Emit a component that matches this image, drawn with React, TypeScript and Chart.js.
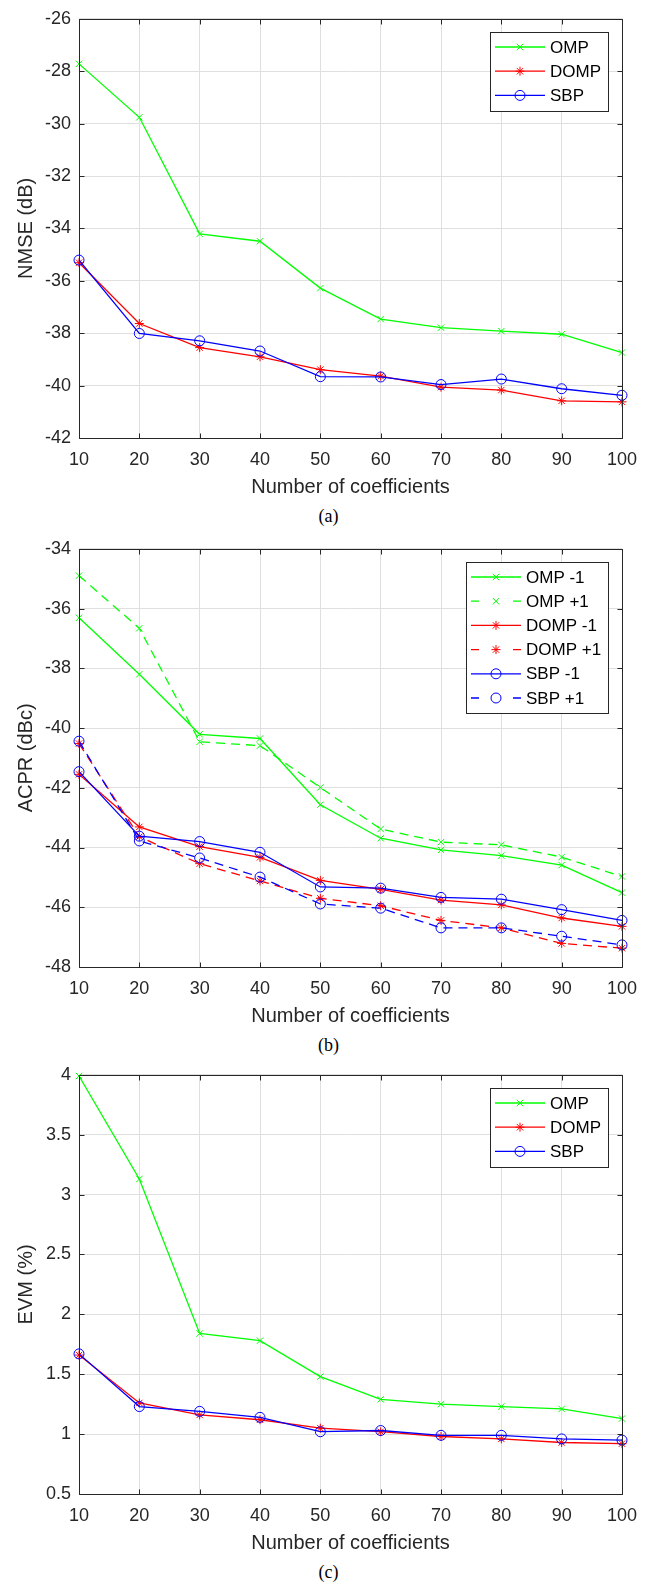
import React, { useEffect, useRef } from "react";
import { Chart, registerables } from "chart.js";

Chart.register(...registerables);

// ---------- data ----------
const coefficients = [10, 20, 30, 40, 50, 60, 70, 80, 90, 100];

const nmseOMP = [-27.72, -29.76, -34.21, -34.49, -36.28, -37.46, -37.79, -37.92, -38.04, -38.74];
const nmseDOMP = [-35.31, -37.63, -38.55, -38.9, -39.39, -39.64, -40.06, -40.17, -40.58, -40.62];
const nmseSBP = [-35.21, -38.01, -38.29, -38.68, -39.66, -39.67, -39.96, -39.75, -40.12, -40.37];

const acprOMPm1 = [-36.31, -38.2, -40.21, -40.35, -42.57, -43.69, -44.08, -44.27, -44.59, -45.51];
const acprOMPp1 = [-34.9, -36.66, -40.46, -40.59, -41.99, -43.38, -43.82, -43.91, -44.32, -44.97];
const acprDOMPm1 = [-41.55, -43.31, -43.97, -44.33, -45.1, -45.4, -45.76, -45.92, -46.36, -46.64];
const acprDOMPp1 = [-40.52, -43.64, -44.54, -45.12, -45.7, -45.95, -46.44, -46.69, -47.21, -47.37];
const acprSBPm1 = [-41.46, -43.62, -43.8, -44.16, -45.32, -45.36, -45.67, -45.73, -46.08, -46.44];
const acprSBPp1 = [-40.44, -43.78, -44.35, -44.99, -45.89, -46.03, -46.69, -46.69, -46.97, -47.26];

const evmOMP = [3.99, 3.13, 1.84, 1.78, 1.48, 1.29, 1.25, 1.23, 1.21, 1.13];
const evmDOMP = [1.66, 1.26, 1.16, 1.12, 1.05, 1.02, 0.98, 0.96, 0.93, 0.92];
const evmSBP = [1.67, 1.23, 1.19, 1.14, 1.02, 1.03, 0.99, 0.99, 0.96, 0.95];

const xTicks = [10, 20, 30, 40, 50, 60, 70, 80, 90, 100];
const nmseTicks = [-42, -40, -38, -36, -34, -32, -30, -28, -26];
const acprTicks = [-48, -46, -44, -42, -40, -38, -36, -34];
const evmTicks = [0.5, 1, 1.5, 2, 2.5, 3, 3.5, 4];

const xTitle = "Number of coefficients";

// ---------- styling ----------
const GREEN = "#00ff00";
const RED = "#ff0000";
const BLUE = "#0000ff";
const AXIS = "#262626";
const GRID = "#dfdfdf";
const FONT = "'Liberation Sans', Arial, sans-serif";
const DASH = [9, 6];

type Series = { label: string; values: number[]; color: string; marker: string; dashed?: boolean };

function drawMarker(ctx: CanvasRenderingContext2D, style: string, x: number, y: number, r: number, color: string) {
  ctx.save();
  ctx.setLineDash([]);
  ctx.strokeStyle = color;
  ctx.lineWidth = 1;
  ctx.beginPath();
  if (style === "circle") {
    ctx.arc(x, y, r, 0, Math.PI * 2);
  } else if (style === "crossRot") {
    const d = r * Math.SQRT1_2;
    ctx.moveTo(x - d, y - d);
    ctx.lineTo(x + d, y + d);
    ctx.moveTo(x - d, y + d);
    ctx.lineTo(x + d, y - d);
  } else if (style === "star") {
    const d = r * Math.SQRT1_2;
    ctx.moveTo(x, y - r);
    ctx.lineTo(x, y + r);
    ctx.moveTo(x - r, y);
    ctx.lineTo(x + r, y);
    ctx.moveTo(x - d, y - d);
    ctx.lineTo(x + d, y + d);
    ctx.moveTo(x - d, y + d);
    ctx.lineTo(x + d, y - d);
  }
  ctx.stroke();
  ctx.restore();
}

const boxPlugin = {
  id: "mlBox",
  afterDatasetsDraw(chart: any) {
    const { ctx, chartArea } = chart;
    const l = Math.round(chartArea.left) + 0.5;
    const r = Math.round(chartArea.right) + 0.5;
    const t = Math.round(chartArea.top) + 0.5;
    const b = Math.round(chartArea.bottom) + 0.5;
    ctx.save();
    ctx.strokeStyle = AXIS;
    ctx.lineWidth = 1;
    ctx.setLineDash([]);
    ctx.beginPath();
    ctx.rect(l, t, r - l, b - t);
    const xs = chart.scales.x;
    const ys = chart.scales.y;
    const tl = 5;
    xs.ticks.forEach((tk: any) => {
      const px = Math.round(xs.getPixelForValue(tk.value)) + 0.5;
      ctx.moveTo(px, b);
      ctx.lineTo(px, b - tl);
      ctx.moveTo(px, t);
      ctx.lineTo(px, t + tl);
    });
    ys.ticks.forEach((tk: any) => {
      const py = Math.round(ys.getPixelForValue(tk.value)) + 0.5;
      ctx.moveTo(l, py);
      ctx.lineTo(l + tl, py);
      ctx.moveTo(r, py);
      ctx.lineTo(r - tl, py);
    });
    ctx.stroke();
    ctx.restore();
  },
};

const legendPlugin = {
  id: "mlLegend",
  afterDraw(chart: any) {
    const { ctx, chartArea } = chart;
    const ds = chart.data.datasets;
    ctx.save();
    ctx.font = `17px ${FONT}`;
    const textW = Math.max(...ds.map((d: any) => ctx.measureText(d.label).width));
    const rowH = 24.2;
    const w = Math.round(60 + textW + 7);
    const h = Math.round(ds.length * rowH + 6);
    const x0 = Math.round(chartArea.right - 14 - w);
    const y0 = Math.round(chartArea.top + 13);
    ctx.fillStyle = "#ffffff";
    ctx.fillRect(x0, y0, w, h);
    ctx.strokeStyle = AXIS;
    ctx.lineWidth = 1;
    ctx.strokeRect(x0 + 0.5, y0 + 0.5, w, h);
    ds.forEach((d: any, i: number) => {
      const cy = y0 + 15 + i * rowH;
      const lx0 = x0 + 5;
      const lx1 = x0 + 55;
      const mx = x0 + 30;
      ctx.strokeStyle = d.borderColor;
      ctx.lineWidth = d.borderWidth;
      ctx.beginPath();
      if (d.borderDash && d.borderDash.length) {
        ctx.moveTo(lx0, cy);
        ctx.lineTo(lx0 + 8, cy);
        ctx.moveTo(lx1 - 8, cy);
        ctx.lineTo(lx1, cy);
      } else {
        ctx.moveTo(lx0, cy);
        ctx.lineTo(lx1, cy);
      }
      ctx.stroke();
      drawMarker(ctx, d.pointStyle, mx, cy, d.pointRadius, d.borderColor);
      ctx.fillStyle = "#000000";
      ctx.textAlign = "left";
      ctx.textBaseline = "middle";
      ctx.fillText(d.label, x0 + 60, cy + 1);
    });
    ctx.restore();
  },
};

function radiusFor(marker: string) {
  if (marker === "circle") return 5;
  if (marker === "star") return 4.5;
  return 4.5;
}

type PanelProps = {
  top: number;
  height: number;
  series: Series[];
  yTicks: number[];
  yTitle: string;
  caption: string;
};

function Panel({ top, height, series, yTicks, yTitle, caption }: PanelProps) {
  const ref = useRef<HTMLCanvasElement | null>(null);
  useEffect(() => {
    if (!ref.current) return;
    const n = series.length;
    const chart = new Chart(ref.current, {
      type: "line",
      data: {
        datasets: series.map((s, i) => ({
          label: s.label,
          data: coefficients.map((c, k) => ({ x: c, y: s.values[k] })),
          borderColor: s.color,
          backgroundColor: s.color,
          borderWidth: 1.3,
          borderDash: s.dashed ? DASH : [],
          pointStyle: s.marker,
          pointRadius: radiusFor(s.marker),
          pointBorderWidth: 1,
          pointBackgroundColor: "rgba(0,0,0,0)",
          pointBorderColor: s.color,
          tension: 0,
          fill: false,
          clip: false,
          order: n - i,
        })),
      },
      options: {
        responsive: false,
        animation: false,
        devicePixelRatio: 1,
        layout: { padding: { left: 0, right: 35, top: 13, bottom: 1 } },
        plugins: { legend: { display: false }, tooltip: { enabled: false } },
        scales: {
          x: {
            type: "linear",
            min: xTicks[0],
            max: xTicks[xTicks.length - 1],
            afterBuildTicks: (scale: any) => {
              scale.ticks = xTicks.map((v) => ({ value: v }));
            },
            afterFit: (scale: any) => {
              scale.height = 61;
            },
            grid: { color: GRID, lineWidth: 1, drawTicks: false },
            border: { display: false },
            ticks: {
              color: AXIS,
              font: { family: FONT, size: 18 },
              padding: 11,
              maxRotation: 0,
              autoSkip: false,
              callback: (v: any) => String(v),
            },
            title: {
              display: true,
              text: xTitle,
              color: AXIS,
              font: { family: FONT, size: 20 },
              padding: { top: 0, bottom: 0 },
            },
          },
          y: {
            type: "linear",
            min: yTicks[0],
            max: yTicks[yTicks.length - 1],
            afterBuildTicks: (scale: any) => {
              scale.ticks = yTicks.map((v) => ({ value: v }));
            },
            afterFit: (scale: any) => {
              scale.width = 79;
            },
            grid: { color: GRID, lineWidth: 1, drawTicks: false },
            border: { display: false },
            ticks: {
              color: AXIS,
              font: { family: FONT, size: 18 },
              padding: 8,
              autoSkip: false,
              callback: (v: any) => String(v),
            },
            title: {
              display: true,
              text: yTitle,
              color: AXIS,
              font: { family: FONT, size: 20 },
              padding: { top: 14, bottom: 0 },
            },
          },
        },
      },
      plugins: [boxPlugin, legendPlugin],
    } as any);
    return () => chart.destroy();
  }, []);
  const plotBottom = top + height - 62;
  return (
    <>
      <div style={{ position: "absolute", left: 0, top, width: 657, height }}>
        <canvas ref={ref} width={657} height={height} style={{ display: "block" }} />
      </div>
      <div
        style={{
          position: "absolute",
          left: 0,
          top: plotBottom + 78 - 11,
          width: 657,
          height: 22,
          lineHeight: "22px",
          textAlign: "center",
          fontFamily: "'Liberation Serif', 'Times New Roman', serif",
          fontSize: 18,
          color: "#000",
        }}
      >
        {caption}
      </div>
    </>
  );
}

export default function App() {
  const nmseSeries: Series[] = [
    { label: "OMP", values: nmseOMP, color: GREEN, marker: "crossRot" },
    { label: "DOMP", values: nmseDOMP, color: RED, marker: "star" },
    { label: "SBP", values: nmseSBP, color: BLUE, marker: "circle" },
  ];
  const acprSeries: Series[] = [
    { label: "OMP -1", values: acprOMPm1, color: GREEN, marker: "crossRot" },
    { label: "OMP +1", values: acprOMPp1, color: GREEN, marker: "crossRot", dashed: true },
    { label: "DOMP -1", values: acprDOMPm1, color: RED, marker: "star" },
    { label: "DOMP +1", values: acprDOMPp1, color: RED, marker: "star", dashed: true },
    { label: "SBP -1", values: acprSBPm1, color: BLUE, marker: "circle" },
    { label: "SBP +1", values: acprSBPp1, color: BLUE, marker: "circle", dashed: true },
  ];
  const evmSeries: Series[] = [
    { label: "OMP", values: evmOMP, color: GREEN, marker: "crossRot" },
    { label: "DOMP", values: evmDOMP, color: RED, marker: "star" },
    { label: "SBP", values: evmSBP, color: BLUE, marker: "circle" },
  ];
  return (
    <div style={{ position: "absolute", left: 0, top: 0, width: 657, height: 1587, background: "#fff" }}>
      <Panel top={0} height={500} series={nmseSeries} yTicks={nmseTicks} yTitle="NMSE (dB)" caption="(a)" />
      <Panel top={530} height={499} series={acprSeries} yTicks={acprTicks} yTitle="ACPR (dBc)" caption="(b)" />
      <Panel top={1056} height={500} series={evmSeries} yTicks={evmTicks} yTitle="EVM (%)" caption="(c)" />
    </div>
  );
}
